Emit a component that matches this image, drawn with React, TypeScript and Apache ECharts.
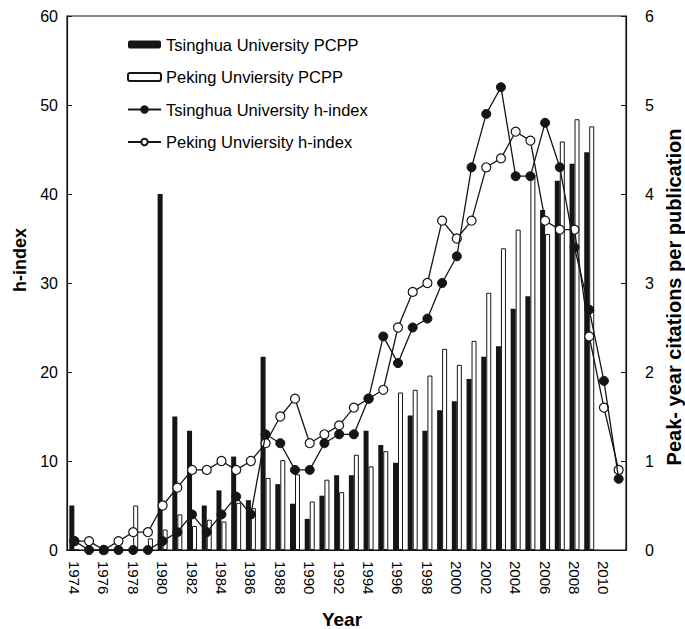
import React, { useEffect, useRef } from "react";
import * as echarts from "echarts";

const years = [
  "1974", "1975", "1976", "1977", "1978", "1979", "1980", "1981", "1982", "1983",
  "1984", "1985", "1986", "1987", "1988", "1989", "1990", "1991", "1992", "1993",
  "1994", "1995", "1996", "1997", "1998", "1999", "2000", "2001", "2002", "2003",
  "2004", "2005", "2006", "2007", "2008", "2009", "2010", "2011",
];

const tsinghuaPCPP = [
  0.5, 0, 0, 0, 0, 0, 4.0, 1.5, 1.34, 0.5,
  0.67, 1.05, 0.56, 2.17, 0.74, 0.52, 0.35, 0.61, 0.84, 0.84,
  1.34, 1.18, 0.98, 1.51, 1.34, 1.57, 1.67, 1.92, 2.17, 2.29,
  2.71, 2.85, 3.82, 4.15, 4.34, 4.47, null, null,
];

const pekingPCPP = [
  0, 0, 0, 0, 0.5, 0.13, 0.23, 0.4, 0.27, 0.34,
  0.32, 0.53, 0.47, 0.81, 1.01, 0.85, 0.545, 0.79, 0.65, 1.07,
  0.94, 1.11, 1.77, 1.8, 1.96, 2.26, 2.08, 2.35, 2.89, 3.39,
  3.6, 4.22, 3.55, 4.59, 4.84, 4.76, null, null,
];

const tsinghuaH = [
  1, 0, 0, 0, 0, 0, 1, 2, 4, 2,
  4, 6, 4, 13, 12, 9, 9, 12, 13, 13,
  17, 24, 21, 25, 26, 30, 33, 43, 49, 52,
  42, 42, 48, 43, 34, 27, 19, 8,
];

const pekingH = [
  1, 1, 0, 1, 2, 2, 5, 7, 9, 9,
  10, 9, 10, 12, 15, 17, 12, 13, 14, 16,
  17, 18, 25, 29, 30, 37, 35, 37, 43, 44,
  47, 46, 37, 36, 36, 24, 16, 9,
];

const leftTicks = { min: 0, max: 60, interval: 10 };
const rightTicks = { min: 0, max: 6, interval: 1 };

const FONT = "'Liberation Sans', Arial, Helvetica, sans-serif";
const INK = "#151515";

export default function App() {
  const ref = useRef<HTMLDivElement>(null);

  useEffect(() => {
    if (!ref.current) return;
    const chart = echarts.init(ref.current, undefined, { renderer: "svg" });
    chart.setOption({
      animation: false,
      backgroundColor: "#fff",
      textStyle: { fontFamily: FONT, color: "#000" },
      grid: {
        left: 67,
        right: 59,
        top: 16,
        bottom: 79,
        show: true,
        borderColor: INK,
        borderWidth: 1.2,
        backgroundColor: "transparent",
      },
      legend: {
        orient: "vertical",
        left: 122,
        top: 31,
        itemWidth: 33,
        itemHeight: 8,
        itemGap: 15.5,
        textStyle: { fontSize: 16.5, color: "#000", fontFamily: FONT },
        data: [
          { name: "Tsinghua University PCPP" },
          { name: "Peking Unviersity PCPP" },
          { name: "Tsinghua University h-index" },
          { name: "Peking Unviersity h-index" },
        ],
      },
      xAxis: {
        type: "category",
        data: years,
        boundaryGap: true,
        axisLine: { lineStyle: { color: INK, width: 1.2 } },
        axisTick: { show: false },
        axisLabel: {
          interval: 1,
          rotate: -90,
          fontSize: 15,
          color: "#000",
          margin: 11,
          fontFamily: FONT,
        },
        splitLine: { show: false },
      },
      yAxis: [
        {
          type: "value",
          min: leftTicks.min,
          max: leftTicks.max,
          interval: leftTicks.interval,
          axisLine: { show: true, lineStyle: { color: INK, width: 1.2 } },
          axisTick: { show: true, inside: true, length: 5, lineStyle: { color: INK } },
          axisLabel: { fontSize: 16, color: "#000", margin: 9, fontFamily: FONT },
          splitLine: { show: false },
        },
        {
          type: "value",
          min: rightTicks.min,
          max: rightTicks.max,
          interval: rightTicks.interval,
          position: "right",
          axisLine: { show: true, lineStyle: { color: INK, width: 1.2 } },
          axisTick: { show: true, inside: true, length: 5, lineStyle: { color: INK } },
          axisLabel: { fontSize: 16, color: "#000", margin: 19, fontFamily: FONT },
          splitLine: { show: false },
        },
      ],
      graphic: [
        {
          type: "text",
          x: 20,
          y: 260,
          rotation: Math.PI / 2,
          style: {
            text: "h-index",
            fontSize: 18,
            fontWeight: "bold",
            fontFamily: FONT,
            fill: "#000",
            align: "center",
            verticalAlign: "middle",
          },
        },
        {
          type: "text",
          x: 342,
          y: 619,
          style: {
            text: "Year",
            fontSize: 19,
            fontWeight: "bold",
            fontFamily: FONT,
            fill: "#000",
            align: "center",
            verticalAlign: "middle",
          },
        },
        {
          type: "text",
          x: 674,
          y: 297,
          rotation: Math.PI / 2,
          style: {
            text: "Peak- year citations per publication",
            fontSize: 20,
            fontWeight: "bold",
            fontFamily: FONT,
            fill: "#000",
            align: "center",
            verticalAlign: "middle",
          },
        },
      ],
      series: [
        {
          name: "Tsinghua University PCPP",
          type: "bar",
          yAxisIndex: 1,
          data: tsinghuaPCPP,
          barWidth: 5,
          barGap: "0%",
          itemStyle: { color: INK, borderWidth: 0 },
        },
        {
          name: "Peking Unviersity PCPP",
          type: "bar",
          yAxisIndex: 1,
          data: pekingPCPP,
          barWidth: 5,
          barGap: "0%",
          itemStyle: { color: "#fff", borderColor: INK, borderWidth: 1 },
        },
        {
          name: "Tsinghua University h-index",
          type: "line",
          yAxisIndex: 0,
          data: tsinghuaH,
          symbol: "circle",
          symbolSize: 9,
          lineStyle: { color: INK, width: 1.3 },
          itemStyle: { color: INK, borderColor: INK, borderWidth: 1 },
          z: 4,
        },
        {
          name: "Peking Unviersity h-index",
          type: "line",
          yAxisIndex: 0,
          data: pekingH,
          symbol: "circle",
          symbolSize: 9,
          lineStyle: { color: INK, width: 1.3 },
          itemStyle: { color: "#fff", borderColor: INK, borderWidth: 1.2 },
          z: 3,
        },
      ],
    });
    return () => chart.dispose();
  }, []);

  return (
    <div
      ref={ref}
      style={{ position: "fixed", left: 0, top: 0, width: 685, height: 629, background: "#fff" }}
    />
  );
}
